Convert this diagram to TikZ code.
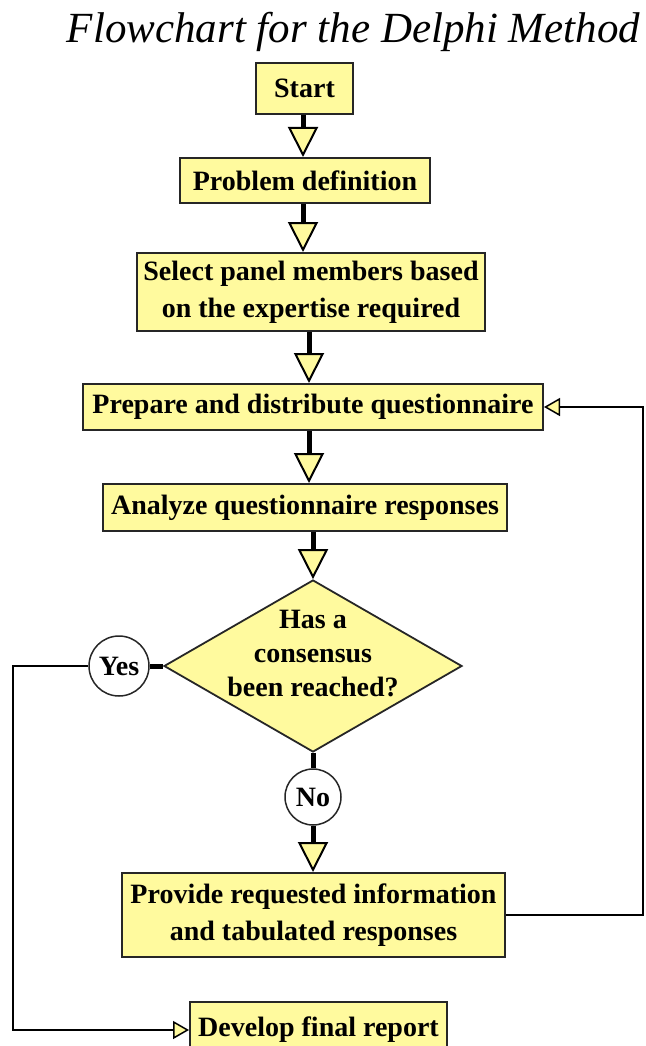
\documentclass[tikz,border=0pt]{standalone}
\usepackage{fontspec}
\setmainfont{Liberation Serif}
\usetikzlibrary{arrows.meta,shapes.geometric}
\definecolor{yel}{RGB}{255,250,158}
\begin{document}
\begin{tikzpicture}[x=1pt,y=-1pt,
  box/.style={draw=black!85, line width=2pt, fill=yel, align=center, inner sep=2pt,
    font=\fontsize{28}{37}\selectfont\bfseries},
  flow/.style={line width=5pt, -{Triangle[width=30pt,length=30pt,fill=yel,line width=2pt]}},
  bar/.style={line width=5pt},
  back/.style={line width=2pt, -{Triangle[width=18pt,length=16pt,fill=yel,line width=1.5pt]}},
  tag/.style={circle, draw=black!85, line width=1.5pt, fill=white, inner sep=0pt,
    font=\fontsize{28}{34}\selectfont\bfseries},
  decision/.style={diamond, draw=black!85, line width=1.8pt, fill=yel,
    minimum width=298pt, minimum height=172pt, inner sep=0pt}
]
\useasboundingbox (0,0) rectangle (645,1046);
\coordinate (a1) at (303,0);
\coordinate (a2) at (309,0);
\coordinate (lx) at (13,0);
\coordinate (rx) at (643,0);

\node[font=\fontsize{43}{50}\selectfont\itshape, anchor=base] (title) at (353.5,43) {Flowchart for the Delphi Method};

\node[box, minimum width=97pt, minimum height=51pt] (start) at (304.5,88.5) {Start};
\node[box, minimum width=250pt, minimum height=45pt] (prob) at (305,180.5) {Problem definition};
\node[box, minimum width=348pt, minimum height=78pt] (sel) at (311,292) {Select panel members based\\on the expertise required};
\node[box, minimum width=460pt, minimum height=46pt] (prep) at (313,407) {Prepare and distribute questionnaire};
\node[box, minimum width=404pt, minimum height=47pt] (ana) at (305,507.5) {Analyze questionnaire responses};
\node[decision, label={[font=\fontsize{28}{34}\selectfont\bfseries, align=center, yshift=12pt]center:Has a\\consensus\\been reached?}] (dec) at (313,666) {};
\node[tag, minimum size=60pt] (yes) at (119,666) {Yes};
\node[tag, minimum size=56pt] (no) at (313,797) {No};
\node[box, minimum width=383pt, minimum height=84pt] (prov) at (313.5,915) {Provide requested information\\and tabulated responses};
\node[box, minimum width=257pt, minimum height=56pt] (dev) at (318.5,1030) {Develop final report};

\draw[flow] (start.south -| a1) -- (prob.north -| a1);
\draw[flow] (prob.south -| a1) -- (sel.north -| a1);
\draw[flow] (sel.south -| a2) -- (prep.north -| a2);
\draw[flow] (prep.south -| a2) -- (ana.north -| a2);
\draw[flow] (ana.south -| dec.north) -- (dec.north);
\draw[bar] (yes.east) -- (dec.west);
\draw[bar] (dec.south) -- (no.north);
\draw[flow] (no.south) -- (no.south |- prov.north);
\draw[back] (prov.east) -- (prov.east -| rx) |- (prep.east);
\draw[back] (yes.west) -- (yes.west -| lx) |- (dev.west);
\end{tikzpicture}
\end{document}
